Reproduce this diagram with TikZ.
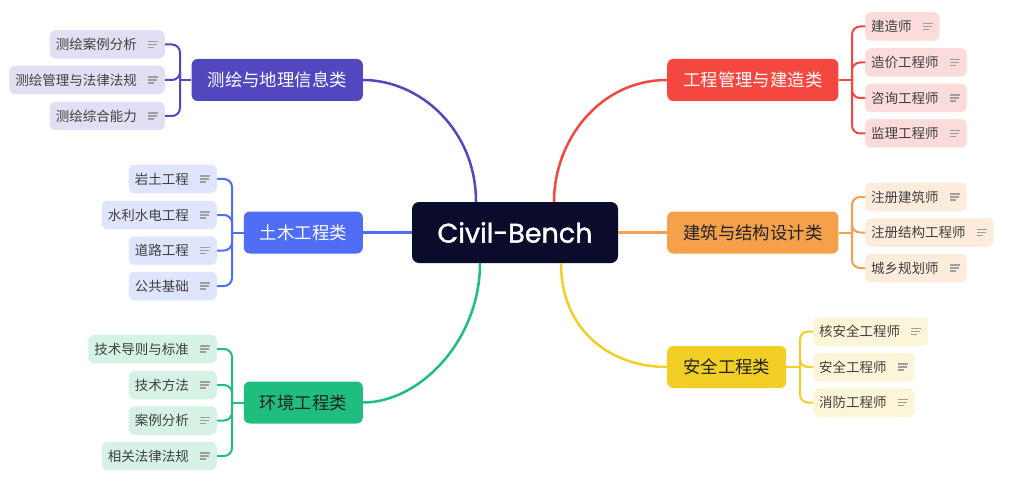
\documentclass[tikz,border=0pt]{standalone}
\usepackage{fontspec}
\newfontfamily\cjk{Noto Sans CJK SC}
\newfontfamily\pop[FakeBold=1.2]{Poppins}
\definecolor{navy}{HTML}{0B0B2C}
\definecolor{cIndigo}{HTML}{5147BF}
\definecolor{cIndigoL}{HTML}{E0DFF3}
\definecolor{cBlue}{HTML}{4F6EF5}
\definecolor{cBlueL}{HTML}{DFE5FD}
\definecolor{cGreen}{HTML}{20BE7E}
\definecolor{cGreenL}{HTML}{D5F2E5}
\definecolor{cRed}{HTML}{F4473F}
\definecolor{cRedL}{HTML}{FCDCDB}
\definecolor{cOrange}{HTML}{F5A04B}
\definecolor{cOrangeL}{HTML}{FDEBDC}
\definecolor{cYellow}{HTML}{F2CF24}
\definecolor{cYellowL}{HTML}{FDF5D7}
\definecolor{leaftext}{HTML}{404040}
\definecolor{darktext}{HTML}{222222}
\newcommand\noteicon[1]{%
  \draw[icon] ([xshift=-17pt,yshift=3pt]#1.east) -- ++(10,0);
  \draw[icon] ([xshift=-17pt]#1.east) -- ++(9,0);
  \draw[icon] ([xshift=-17pt,yshift=-3pt]#1.east) -- ++(6,0);}
\newcommand\lf[1]{\hspace*{6pt}#1\hspace*{28pt}}
\begin{document}
\begin{tikzpicture}[x=1pt,y=-1pt,
  branch/.style={rounded corners=6pt, minimum height=42pt, inner xsep=16pt, inner ysep=0pt,
    font=\cjk\fontsize{17.4}{20}\selectfont},
  leaf/.style={rounded corners=6pt, minimum height=28.5pt, inner xsep=0pt, inner ysep=0pt,
    font=\cjk\fontsize{13.5}{16}\selectfont, text=leaftext},
  icon/.style={line width=1.1pt, gray!75},
  main/.style={line width=2.5pt},
  brk/.style={line width=2pt, rounded corners=8pt},
]
\fill[white] (0,0) rectangle (1019,481);
\useasboundingbox (0,0) rectangle (1019,481);

% centre
\node[fill=navy, rounded corners=7pt, minimum width=206pt, minimum height=61pt, inner sep=0pt,
  text=white, font=\pop\fontsize{27}{30}\selectfont] (C) at (515,232.5) {Civil-Bench};

% branches
\node[branch, fill=cIndigo, text=white, anchor=east] (G1) at (363,80) {测绘与地理信息类};
\node[branch, fill=cBlue, text=white, anchor=east] (G2) at (363,232.5) {土木工程类};
\node[branch, fill=cGreen, text=darktext, anchor=east] (G3) at (363,402.5) {环境工程类};
\node[branch, fill=cRed, text=white, anchor=west] (R1) at (667,80) {工程管理与建造类};
\node[branch, fill=cOrange, text=darktext, anchor=west] (R2) at (667,232.5) {建筑与结构设计类};
\node[branch, fill=cYellow, text=darktext, anchor=west] (R3) at (667,367) {安全工程类};

% leaves G1
\node[leaf, fill=cIndigoL, anchor=east] (g11) at (165,44.5) {\lf{测绘案例分析}};
\node[leaf, fill=cIndigoL, anchor=east] (g12) at (165,80) {\lf{测绘管理与法律法规}};
\node[leaf, fill=cIndigoL, anchor=east] (g13) at (165,116) {\lf{测绘综合能力}};
% leaves G2
\node[leaf, fill=cBlueL, anchor=east] (g21) at (217,179) {\lf{岩土工程}};
\node[leaf, fill=cBlueL, anchor=east] (g22) at (217,215) {\lf{水利水电工程}};
\node[leaf, fill=cBlueL, anchor=east] (g23) at (217,250.5) {\lf{道路工程}};
\node[leaf, fill=cBlueL, anchor=east] (g24) at (217,286) {\lf{公共基础}};
% leaves G3
\node[leaf, fill=cGreenL, anchor=east] (g31) at (217,349) {\lf{技术导则与标准}};
\node[leaf, fill=cGreenL, anchor=east] (g32) at (217,385) {\lf{技术方法}};
\node[leaf, fill=cGreenL, anchor=east] (g33) at (217,420.5) {\lf{案例分析}};
\node[leaf, fill=cGreenL, anchor=east] (g34) at (217,456) {\lf{相关法律法规}};
% leaves R1
\node[leaf, fill=cRedL, anchor=west] (r11) at (865,26.5) {\lf{建造师}};
\node[leaf, fill=cRedL, anchor=west] (r12) at (865,62.5) {\lf{造价工程师}};
\node[leaf, fill=cRedL, anchor=west] (r13) at (865,98) {\lf{咨询工程师}};
\node[leaf, fill=cRedL, anchor=west] (r14) at (865,133.5) {\lf{监理工程师}};
% leaves R2
\node[leaf, fill=cOrangeL, anchor=west] (r21) at (865,197) {\lf{注册建筑师}};
\node[leaf, fill=cOrangeL, anchor=west] (r22) at (865,232.5) {\lf{注册结构工程师}};
\node[leaf, fill=cOrangeL, anchor=west] (r23) at (865,268) {\lf{城乡规划师}};
% leaves R3
\node[leaf, fill=cYellowL, anchor=west] (r31) at (813,331.5) {\lf{核安全工程师}};
\node[leaf, fill=cYellowL, anchor=west] (r32) at (813,367) {\lf{安全工程师}};
\node[leaf, fill=cYellowL, anchor=west] (r33) at (813,402.5) {\lf{消防工程师}};

\foreach \n in {g11,g12,g13,g21,g22,g23,g24,g31,g32,g33,g34,r11,r12,r13,r14,r21,r22,r23,r31,r32,r33}{\noteicon{\n}}

% main connectors
\draw[main, cIndigo] ([xshift=-39pt]C.north) .. controls (476,130) and (420,80) .. (G1.east);
\draw[main, cRed] ([xshift=39pt]C.north) .. controls (554,140) and (600,80) .. (R1.west);
\draw[main, cGreen] ([xshift=-35pt]C.south) .. controls (480,340) and (420,402.5) .. (G3.east);
\draw[main, cYellow] ([xshift=46pt]C.south) .. controls (561,330) and (610,367) .. (R3.west);
\draw[main, cBlue] (C.west) -- (G2.east);
\draw[main, cOrange] (C.east) -- (R2.west);

% junctions
\coordinate (J1) at (180,80);
\coordinate (J2) at (232,232.5);
\coordinate (J3) at (232,402.5);
\coordinate (K1) at (852,80);
\coordinate (K2) at (852,232.5);
\coordinate (K3) at (800,367);

\draw[brk, cIndigo] (G1.west) -- (J1);
\foreach \n in {g11,g12,g13}{\draw[brk, cIndigo] (J1) |- (\n.east);}
\draw[brk, cBlue] (G2.west) -- (J2);
\foreach \n in {g21,g22,g23,g24}{\draw[brk, cBlue] (J2) |- (\n.east);}
\draw[brk, cGreen] (G3.west) -- (J3);
\foreach \n in {g31,g32,g33,g34}{\draw[brk, cGreen] (J3) |- (\n.east);}
\draw[brk, cRed] (R1.east) -- (K1);
\foreach \n in {r11,r12,r13,r14}{\draw[brk, cRed] (K1) |- (\n.west);}
\draw[brk, cOrange] (R2.east) -- (K2);
\foreach \n in {r21,r22,r23}{\draw[brk, cOrange] (K2) |- (\n.west);}
\draw[brk, cYellow] (R3.east) -- (K3);
\foreach \n in {r31,r32,r33}{\draw[brk, cYellow] (K3) |- (\n.west);}
\end{tikzpicture}
\end{document}
